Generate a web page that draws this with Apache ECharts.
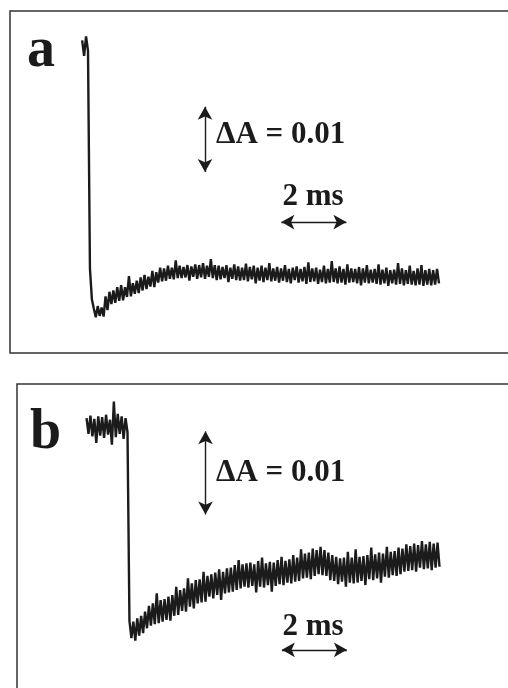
<!DOCTYPE html>
<html>
<head>
<meta charset="utf-8">
<script src="https://cdn.jsdelivr.net/npm/echarts@6/dist/echarts.min.js"></script>
<style>
html, body { margin: 0; padding: 0; background: #fff; }
#chart { width: 508px; height: 688px; }
</style>
</head>
<body>
<div id="chart"></div>
<script>
// both recordings sampled every 0.06 ms
var stepMs = 0.06;

// trace a: absorbance change in units of 1e-3, first sample at startA (ms)
var startA = -0.18;
var traceA = [
    1.0, -1.4, 1.6, -0.6, -34.0, -38.8, -40.2, -41.5, -39.8, -41.3, -40.0, -41.4,
    -38.3, -40.4, -37.6, -39.5, -37.4, -39.3, -36.9, -39.0,
    -36.6, -38.9, -36.9, -38.4, -35.2, -38.3, -36.3, -37.9, -35.9, -37.8,
    -35.4, -37.4, -35.0, -37.2, -35.3, -36.8, -34.4, -36.9, -34.6, -36.2,
    -33.9, -36.0, -34.0, -35.9, -33.6, -35.6, -33.9, -35.7, -32.8, -35.5,
    -33.6, -35.5, -33.8, -35.4, -33.5, -35.9, -33.7, -35.3, -33.4, -35.6,
    -33.5, -35.4, -33.2, -35.6, -33.6, -35.3, -32.6, -35.5, -33.5, -35.8,
    -33.6, -35.7, -33.8, -35.5, -33.5, -36.1, -33.9, -35.6, -33.4, -35.8,
    -33.7, -35.9, -33.9, -35.8, -33.3, -36.0, -33.8, -35.7, -33.6, -36.3,
    -33.9, -35.9, -33.6, -36.1, -33.9, -35.8, -33.2, -36.0, -34.0, -35.9,
    -33.8, -36.2, -34.0, -35.9, -33.5, -36.1, -34.1, -36.3, -33.9, -35.8,
    -33.7, -36.2, -34.1, -36.0, -33.8, -36.4, -33.1, -36.1, -34.0, -36.0,
    -33.9, -36.4, -34.2, -36.1, -33.6, -36.3, -34.1, -36.2, -32.9, -36.1,
    -34.0, -36.3, -33.7, -36.2, -34.1, -36.5, -33.4, -36.2, -34.0, -36.1,
    -34.1, -36.3, -33.8, -36.6, -34.0, -36.2, -33.5, -36.3, -34.2, -36.2,
    -34.1, -36.4, -33.4, -36.5, -34.2, -36.3, -33.9, -36.7, -34.3, -36.3,
    -34.2, -36.5, -33.2, -36.4, -34.0, -36.6, -34.3, -36.4, -33.6, -36.5,
    -34.4, -36.6, -34.0, -36.5, -33.5, -36.7, -34.3, -36.5, -34.1, -36.6,
    -34.3, -36.5, -34.1, -36.3
];

// trace b: same units, first sample at startB (ms)
var startB = -1.26;
var traceB = [
    0.9, -1.0, 1.2, -1.3, 0.8, -2.1, 1.1, -1.2, 1.0, -1.5,
    1.3, -1.1, 0.7, -2.3, 2.9, -1.4, 1.4, -1.0, 1.1, -1.6,
    0.9, -0.8, -23.5, -25.6, -23.6, -25.9, -23.2, -25.3, -22.9, -25.0,
    -22.4, -24.4, -21.7, -24.1, -21.4, -23.9, -20.2, -23.8, -21.0, -23.6,
    -20.9, -23.4, -20.6, -23.5, -20.4, -22.9, -19.4, -22.8, -19.8, -22.3,
    -19.6, -22.4, -18.4, -21.8, -19.0, -22.0, -18.6, -21.4, -18.5, -21.3,
    -17.6, -21.2, -18.1, -20.6, -17.9, -20.8, -17.7, -20.4, -17.3, -21.0,
    -17.6, -20.2, -17.2, -20.1, -17.1, -20.0, -16.8, -19.8, -16.2, -19.6,
    -16.7, -19.4, -16.6, -19.5, -16.5, -19.3, -16.7, -20.1, -16.3, -19.4,
    -15.9, -19.5, -16.6, -19.2, -16.4, -20.0, -16.5, -19.3, -16.2, -19.1,
    -15.8, -19.2, -16.3, -18.9, -16.1, -19.0, -15.6, -18.8, -15.9, -18.7,
    -14.9, -18.4, -15.4, -18.3, -15.3, -18.5, -14.8, -18.1, -15.0, -17.9,
    -14.6, -18.0, -15.0, -18.1, -15.3, -18.6, -15.6, -18.7, -15.8, -19.1,
    -16.0, -18.8, -15.9, -19.4, -15.2, -18.9, -15.9, -19.0, -14.9, -18.9,
    -15.8, -18.7, -15.7, -19.2, -15.6, -18.5, -14.7, -18.6, -15.5, -18.4,
    -15.3, -18.9, -15.4, -18.2, -14.6, -18.3, -15.2, -18.0, -15.1, -18.1,
    -14.7, -17.9, -14.8, -17.6, -14.3, -17.5, -14.5, -17.4, -14.2, -17.6,
    -14.4, -17.1, -13.9, -17.3, -14.3, -17.2, -14.0, -17.4, -14.2, -17.1,
    -14.1, -17.0
];

// scale bars: 0.01 absorbance (10 units) and 2 ms
var barDA = 10;
var barDT = 2;
var labelDA = '\u0394A = 0.01';
var labelDT = '2 ms';
var letters = ['a', 'b'];

function toPairs(start, values) {
    return values.map(function (v, i) {
        return [+(start + i * stepMs).toFixed(2), v];
    });
}

function scaleBars(tV, vV, tH, vH) {
    return [
        [{ coord: [tV, vV] }, { coord: [tV, vV - barDA] }],
        [{ coord: [tH, vH] }, { coord: [tH + barDT, vH] }]
    ];
}

var chart = echarts.init(document.getElementById('chart'));

var ink = '#1b1b1b';
var serif = 'bold 31px "Liberation Serif", "DejaVu Serif", serif';
var bigSerif = 'bold 56px "Liberation Serif", "DejaVu Serif", serif';

function markLineOf(data) {
    return {
        silent: true,
        symbol: ['arrow', 'arrow'],
        symbolSize: [11, 13],
        lineStyle: { color: ink, width: 1.4, type: 'solid' },
        label: { show: false },
        emphasis: { disabled: true },
        data: data
    };
}

var option = {
    animation: false,
    backgroundColor: '#fff',
    grid: [
        { left: 10, top: 11, width: 520, height: 342, outerBoundsMode: 'none', show: true, borderColor: '#333', borderWidth: 1.5, backgroundColor: 'transparent' },
        { left: 17, top: 384, width: 520, height: 324, outerBoundsMode: 'none', show: true, borderColor: '#333', borderWidth: 1.5, backgroundColor: 'transparent' }
    ],
    xAxis: [
        { type: 'value', gridIndex: 0, min: -2.4, max: 13.6, show: false },
        { type: 'value', gridIndex: 1, min: -3.4, max: 12.6, show: false }
    ],
    yAxis: [
        { type: 'value', gridIndex: 0, min: -47, max: 5.5, show: false },
        { type: 'value', gridIndex: 1, min: -34, max: 5, show: false }
    ],
    series: [
        {
            name: 'a',
            type: 'line',
            xAxisIndex: 0,
            yAxisIndex: 0,
            data: toPairs(startA, traceA),
            showSymbol: false,
            symbol: 'none',
            lineStyle: { color: ink, width: 2.4 },
            markLine: markLineOf(scaleBars(3.6, -9.2, 5.95, -26.9))
        },
        {
            name: 'b',
            type: 'line',
            xAxisIndex: 1,
            yAxisIndex: 1,
            data: toPairs(startB, traceB),
            showSymbol: false,
            symbol: 'none',
            lineStyle: { color: ink, width: 2.4 },
            markLine: markLineOf(scaleBars(2.4, -0.7, 4.75, -27.0))
        }
    ],
    graphic: [
        { type: 'text', left: 27, top: 24, style: { text: letters[0], font: bigSerif, fill: ink } },
        { type: 'text', left: 30, top: 406, style: { text: letters[1], font: bigSerif, fill: ink } },
        { type: 'text', x: 216, y: 135, style: { text: labelDA, font: serif, fill: ink, textVerticalAlign: 'middle' } },
        { type: 'text', x: 216, y: 473, style: { text: labelDA, font: serif, fill: ink, textVerticalAlign: 'middle' } },
        { type: 'text', x: 313, y: 197, style: { text: labelDT, font: serif, fill: ink, textAlign: 'center', textVerticalAlign: 'middle' } },
        { type: 'text', x: 313, y: 627, style: { text: labelDT, font: serif, fill: ink, textAlign: 'center', textVerticalAlign: 'middle' } }
    ]
};

chart.setOption(option);
</script>
</body>
</html>
